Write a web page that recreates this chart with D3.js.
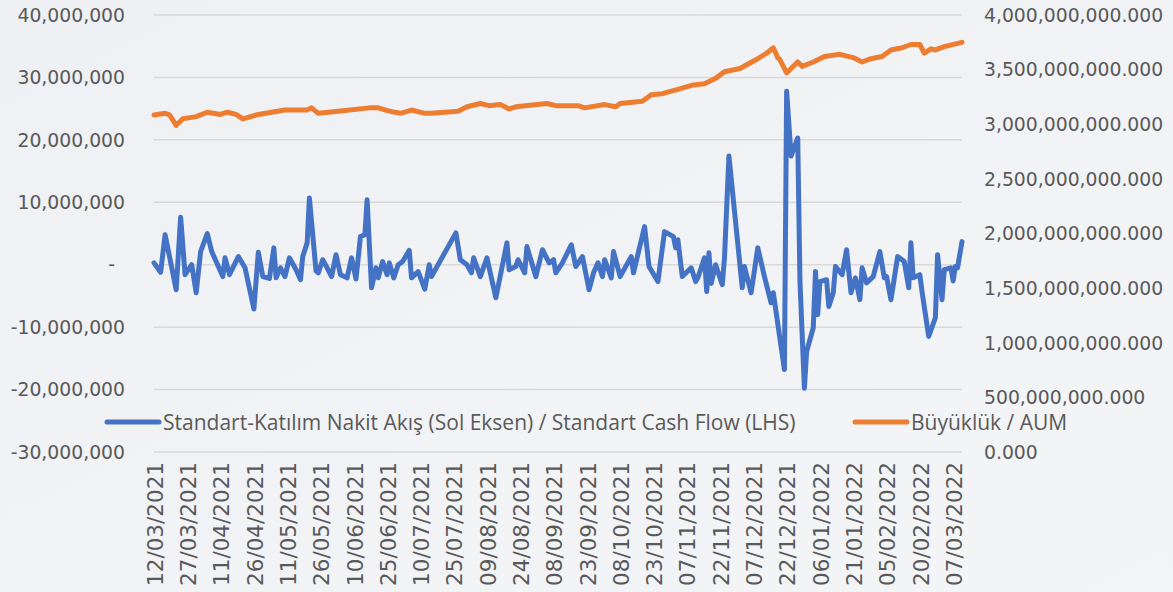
<!DOCTYPE html>
<html>
<head>
<meta charset="utf-8">
<script src="https://cdn.jsdelivr.net/npm/d3@7"></script>
<style>
  body { margin: 0; background: #eff1f4; }
  svg { display: block; }
</style>
</head>
<body>
<div class="chart"></div>
<script>
// setup chart dimensions
var svgWidth = 1173;
var svgHeight = 592;

// plot area (pixels)
var plot = { left: 154, right: 962, top: 15, bottom: 452 };

// ---- data ----
// Standart-Katilim cash flow, TL (left axis) - values in millions
var flowDates = ["12/03/2021","15/03/2021","17/03/2021","22/03/2021","24/03/2021","26/03/2021","29/03/2021","31/03/2021","02/04/2021","05/04/2021",
  "07/04/2021","09/04/2021","12/04/2021","13/04/2021","15/04/2021","19/04/2021","22/04/2021","26/04/2021","28/04/2021","30/04/2021",
  "03/05/2021","05/05/2021","06/05/2021","08/05/2021","10/05/2021","12/05/2021","15/05/2021","17/05/2021","18/05/2021","20/05/2021",
  "21/05/2021","24/05/2021","25/05/2021","27/05/2021","29/05/2021","31/05/2021","02/06/2021","04/06/2021","07/06/2021","09/06/2021",
  "11/06/2021","13/06/2021","15/06/2021","16/06/2021","18/06/2021","20/06/2021","21/06/2021","23/06/2021","25/06/2021","26/06/2021",
  "28/06/2021","30/06/2021","02/07/2021","05/07/2021","06/07/2021","09/07/2021","12/07/2021","14/07/2021","15/07/2021","26/07/2021",
  "28/07/2021","31/07/2021","02/08/2021","03/08/2021","06/08/2021","09/08/2021","13/08/2021","18/08/2021","19/08/2021","22/08/2021",
  "23/08/2021","26/08/2021","27/08/2021","31/08/2021","03/09/2021","06/09/2021","08/09/2021","09/09/2021","12/09/2021","16/09/2021",
  "18/09/2021","21/09/2021","24/09/2021","26/09/2021","28/09/2021","30/09/2021","01/10/2021","04/10/2021","05/10/2021","08/10/2021",
  "13/10/2021","14/10/2021","19/10/2021","21/10/2021","25/10/2021","28/10/2021","01/11/2021","02/11/2021","03/11/2021","05/11/2021",
  "09/11/2021","11/11/2021","12/11/2021","15/11/2021","16/11/2021","17/11/2021","18/11/2021","20/11/2021","23/11/2021","24/11/2021",
  "26/11/2021","02/12/2021","03/12/2021","06/12/2021","09/12/2021","12/12/2021","15/12/2021","16/12/2021","21/12/2021","22/12/2021",
  "24/12/2021","27/12/2021","28/12/2021","30/12/2021","31/12/2021","03/01/2022","04/01/2022","05/01/2022","06/01/2022","09/01/2022",
  "10/01/2022","12/01/2022","13/01/2022","16/01/2022","18/01/2022","20/01/2022","22/01/2022","24/01/2022","25/01/2022","27/01/2022",
  "30/01/2022","02/02/2022","04/02/2022","05/02/2022","07/02/2022","10/02/2022","13/02/2022","15/02/2022","16/02/2022","17/02/2022",
  "20/02/2022","21/02/2022","24/02/2022","27/02/2022","28/02/2022","02/03/2022","03/03/2022","06/03/2022","07/03/2022","08/03/2022",
  "09/03/2022","11/03/2022"];
var flowValues = [0.3,-1.2,4.8,-4.0,7.6,-1.6,0.0,-4.5,2.1,5.0,
  2.1,0.5,-1.9,1.1,-1.6,1.3,-0.5,-7.1,2.0,-1.9,
  -2.2,2.7,-2.1,-0.5,-1.9,1.1,-0.8,-2.4,1.3,3.5,
  10.7,-1.0,-1.3,0.8,-0.5,-1.9,1.6,-1.6,-2.1,1.1,
  -2.3,4.5,4.8,10.4,-3.7,-0.5,-2.1,0.5,-1.6,0.3,
  -2.1,0.0,0.5,2.3,-2.1,-1.1,-3.9,0.0,-1.9,5.1,
  0.8,0.0,-1.3,1.1,-1.9,1.1,-5.3,3.5,-0.8,-0.3,
  0.8,-1.3,2.9,-1.9,2.4,0.3,0.8,-1.3,0.3,3.2,
  -0.3,1.3,-4.0,-1.3,0.3,-1.9,0.8,-2.1,2.1,-1.9,
  1.3,-1.3,6.1,-0.3,-2.7,5.3,4.5,2.7,4.0,-1.9,
  -0.5,-2.7,-2.1,1.1,-4.3,1.9,-3.0,0.0,-3.2,1.1,
  17.4,-3.7,-0.3,-4.5,2.7,-1.9,-6.1,-4.5,-16.8,27.8,
  17.4,20.3,-2.7,-19.8,-13.9,-10.1,-1.1,-8.0,-2.7,-2.4,
  -6.7,-4.5,-0.3,-1.6,2.4,-4.5,-2.1,-5.6,-0.5,-2.9,
  -1.9,2.1,-2.1,-1.9,-5.6,1.3,0.5,-3.7,3.5,-2.1,
  -1.6,-4.3,-11.5,-8.5,1.6,-5.6,-0.8,-0.5,-2.6,-0.3,
  -0.5,3.7];

// Buyukluk / AUM, TL (right axis) - values in billions
var aumDates = ["12/03/2021","17/03/2021","19/03/2021","22/03/2021","25/03/2021","31/03/2021","05/04/2021","11/04/2021","14/04/2021","18/04/2021",
  "21/04/2021","28/04/2021","10/05/2021","20/05/2021","22/05/2021","25/05/2021","03/06/2021","17/06/2021","21/06/2021","26/06/2021",
  "01/07/2021","06/07/2021","12/07/2021","15/07/2021","27/07/2021","31/07/2021","06/08/2021","10/08/2021","15/08/2021","19/08/2021",
  "22/08/2021","05/09/2021","09/09/2021","19/09/2021","22/09/2021","01/10/2021","06/10/2021","08/10/2021","18/10/2021","22/10/2021",
  "27/10/2021","03/11/2021","10/11/2021","15/11/2021","20/11/2021","24/11/2021","01/12/2021","09/12/2021","13/12/2021","16/12/2021",
  "18/12/2021","19/12/2021","22/12/2021","24/12/2021","27/12/2021","29/12/2021","03/01/2022","08/01/2022","15/01/2022","21/01/2022",
  "25/01/2022","29/01/2022","03/02/2022","07/02/2022","12/02/2022","16/02/2022","20/02/2022","22/02/2022","25/02/2022","27/02/2022",
  "03/03/2022","11/03/2022"];
var aumValues = [3.085,3.10,3.085,2.99,3.05,3.07,3.11,3.09,3.11,3.09,
  3.05,3.09,3.13,3.13,3.15,3.10,3.12,3.15,3.15,3.12,
  3.10,3.13,3.10,3.10,3.12,3.16,3.19,3.17,3.18,3.14,
  3.16,3.19,3.17,3.17,3.15,3.18,3.16,3.19,3.21,3.27,
  3.28,3.32,3.36,3.37,3.42,3.48,3.51,3.60,3.65,3.70,
  3.61,3.59,3.47,3.51,3.57,3.53,3.57,3.62,3.64,3.61,
  3.57,3.60,3.62,3.68,3.70,3.73,3.73,3.65,3.69,3.68,
  3.71,3.75];

// axis ticks
var dateTicks = ["12/03/2021","27/03/2021","11/04/2021","26/04/2021","11/05/2021","26/05/2021","10/06/2021","25/06/2021",
  "10/07/2021","25/07/2021","09/08/2021","24/08/2021","08/09/2021","23/09/2021","08/10/2021","23/10/2021",
  "07/11/2021","22/11/2021","07/12/2021","22/12/2021","06/01/2022","21/01/2022","05/02/2022","20/02/2022","07/03/2022"];
var leftTicks = [40e6, 30e6, 20e6, 10e6, 0, -10e6, -20e6, -30e6];
var rightTicks = [4e9, 3.5e9, 3e9, 2.5e9, 2e9, 1.5e9, 1e9, 0.5e9, 0];

var seriesNames = [
  "Standart-Katılım Nakit Akış (Sol Eksen) / Standart Cash Flow (LHS)",
  "Büyüklük / AUM"
];
var seriesColors = ["#4472c4", "#ed7d31"];

var parseDate = d3.timeParse("%d/%m/%Y");
var textColor = "#595959";
var numFont = "'DejaVu Sans', sans-serif";

// plain hyphen for negatives, like the original
var locale = d3.formatLocale({
  decimal: ".",
  thousands: ",",
  grouping: [3],
  currency: ["", ""],
  minus: "-"
});

var flowData = flowDates.map(function(d, i) {
  return { date: parseDate(d), value: flowValues[i] * 1e6 };
});
var aumData = aumDates.map(function(d, i) {
  return { date: parseDate(d), value: aumValues[i] * 1e9 };
});

var svg = d3.select(".chart")
  .append("svg")
  .attr("width", svgWidth)
  .attr("height", svgHeight);

// background
var grad = svg.append("defs").append("linearGradient")
  .attr("id", "bg")
  .attr("x1", "0").attr("y1", "0").attr("x2", "1").attr("y2", "1");
grad.append("stop").attr("offset", "0%").attr("stop-color", "#eef0f3");
grad.append("stop").attr("offset", "100%").attr("stop-color", "#f4f5f7");
svg.append("rect")
  .attr("width", svgWidth)
  .attr("height", svgHeight)
  .attr("fill", "url(#bg)");

// scales
var xScale = d3.scaleTime()
  .domain([parseDate("12/03/2021"), parseDate("11/03/2022")])
  .range([plot.left, plot.right]);

var yLeft = d3.scaleLinear()
  .domain([-30e6, 40e6])
  .range([plot.bottom, plot.top]);

var yRight = d3.scaleLinear()
  .domain([0, 4e9])
  .range([plot.bottom, plot.top]);

// gridlines
svg.append("g")
  .selectAll("line")
  .data(leftTicks)
  .enter()
  .append("line")
  .attr("x1", plot.left)
  .attr("x2", plot.right)
  .attr("y1", d => yLeft(d))
  .attr("y2", d => yLeft(d))
  .attr("stroke", "#d9d9d9")
  .attr("stroke-width", 1.5);

// left axis labels
var fmtLeft = locale.format(",");
svg.append("g")
  .selectAll("text")
  .data(leftTicks)
  .enter()
  .append("text")
  .attr("x", d => d === 0 ? 115 : 125)
  .attr("y", d => yLeft(d))
  .attr("dy", "0.36em")
  .attr("text-anchor", "end")
  .attr("fill", textColor)
  .style("font-family", numFont)
  .style("font-size", "18.8px")
  .text(d => d === 0 ? "-" : fmtLeft(d));

// right axis labels
var fmtRight = locale.format(",.3f");
svg.append("g")
  .selectAll("text")
  .data(rightTicks)
  .enter()
  .append("text")
  .attr("x", 984)
  .attr("y", d => yRight(d))
  .attr("dy", "0.36em")
  .attr("text-anchor", "start")
  .attr("fill", textColor)
  .style("font-family", numFont)
  .style("font-size", "18.8px")
  .text(d => fmtRight(d));

// date labels, rotated
svg.append("g")
  .selectAll("text")
  .data(dateTicks)
  .enter()
  .append("text")
  .attr("transform", d => `translate(${xScale(parseDate(d)) + 1}, 462) rotate(-90)`)
  .attr("dy", "0.36em")
  .attr("text-anchor", "end")
  .attr("fill", textColor)
  .style("font-family", numFont)
  .style("font-size", "21.5px")
  .text(d => d);

// lines
var flowLine = d3.line()
  .x(d => xScale(d.date))
  .y(d => yLeft(d.value));

var aumLine = d3.line()
  .x(d => xScale(d.date))
  .y(d => yRight(d.value));

svg.append("path")
  .datum(aumData)
  .attr("d", aumLine)
  .attr("fill", "none")
  .attr("stroke", seriesColors[1])
  .attr("stroke-width", 5)
  .attr("stroke-linejoin", "round")
  .attr("stroke-linecap", "round");

svg.append("path")
  .datum(flowData)
  .attr("d", flowLine)
  .attr("fill", "none")
  .attr("stroke", seriesColors[0])
  .attr("stroke-width", 5)
  .attr("stroke-linejoin", "round")
  .attr("stroke-linecap", "round");

// legend
var legendItems = [
  { x: 107, name: seriesNames[0], color: seriesColors[0] },
  { x: 855, name: seriesNames[1], color: seriesColors[1] }
];
var legend = svg.append("g")
  .selectAll("g")
  .data(legendItems)
  .enter()
  .append("g")
  .attr("transform", d => `translate(${d.x}, 422)`);

legend.append("line")
  .attr("x1", 0)
  .attr("x2", 52)
  .attr("stroke", d => d.color)
  .attr("stroke-width", 5)
  .attr("stroke-linecap", "round");

legend.append("text")
  .attr("x", 56)
  .attr("dy", "0.36em")
  .attr("fill", textColor)
  .style("font-family", "'Open Sans', sans-serif")
  .style("font-size", "21px")
  .text(d => d.name);
</script>
</body>
</html>
